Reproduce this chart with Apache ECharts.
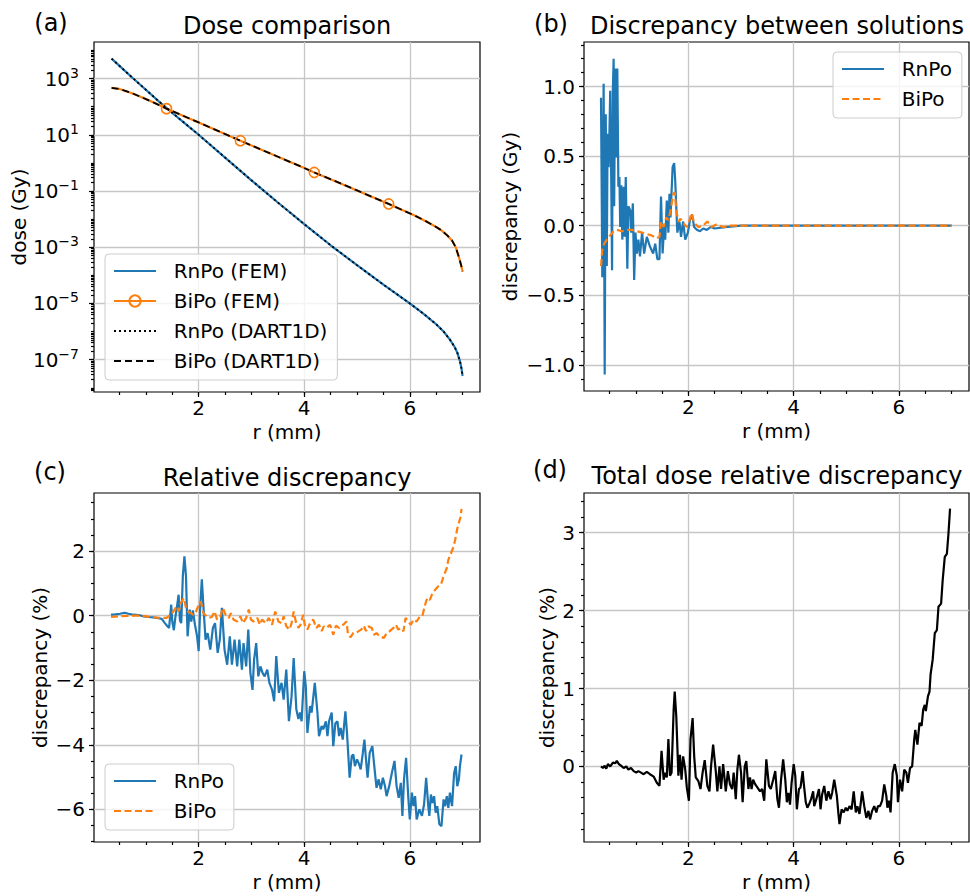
<!DOCTYPE html>
<html>
<head>
<meta charset="utf-8">
<script src="https://cdn.jsdelivr.net/npm/echarts@6/dist/echarts.min.js"></script>
<style>
html, body { margin: 0; padding: 0; background: #fff; }
#chart { width: 970px; height: 896px; }
</style>
</head>
<body>
<div id="chart"></div>
<script>
// (a) dose, stored as log10(dose in Gy)
var rnpoR_a = [0.35,0.5,0.75,1.0,1.25,1.5,1.75,2.0,2.5,3.0,
  3.5,4.0,4.5,5.0,5.5,6.0,6.25,6.5,6.64,6.75,
  6.85,6.9,6.95,6.98,7.0];
var rnpoLogDose_a = [3.71,3.45,3.02,2.60,2.18,1.78,1.39,1.0,0.19,-0.62,
  -1.41,-2.18,-2.93,-3.64,-4.33,-5.0,-5.35,-5.74,-6.0,-6.26,
  -6.55,-6.75,-7.05,-7.32,-7.58];
var bipoR_a = [0.35,0.5,0.75,1.0,1.2,1.39,1.7,2.0,2.4,2.79,
  3.2,3.6,4.0,4.19,4.6,5.0,5.3,5.6,5.9,6.1,
  6.33,6.5,6.6,6.71,6.8,6.87,6.93,6.97,7.0];
var bipoLogDose_a = [2.67,2.63,2.47,2.27,2.1,1.93,1.68,1.44,1.11,0.79,
  0.46,0.14,-0.18,-0.34,-0.66,-0.98,-1.22,-1.46,-1.71,-1.88,
  -2.1,-2.28,-2.4,-2.58,-2.76,-3.0,-3.35,-3.62,-3.86];
var bipoMarkerIdx = [5, 9, 13, 17];

// (b) discrepancy between solutions (Gy)
var rnpoR_b = [0.34,0.365,0.39,0.41,0.43,0.45,0.465,0.485,0.50,0.515,
  0.535,0.55,0.565,0.58,0.59,0.61,0.63,0.65,0.67,0.69,
  0.705,0.725,0.745,0.77,0.79,0.81,0.84,0.86,0.895,0.914,
  0.945,0.97,0.995,1.02,1.05,1.08,1.12,1.16,1.21,1.27,
  1.33,1.37,1.41,1.45,1.48,1.51,1.54,1.56,1.59,1.62,
  1.64,1.66,1.70,1.73,1.75,1.79,1.83,1.86,1.90,1.94,
  1.99,2.03,2.07,2.11,2.16,2.22,2.28,2.35,2.42,2.5,
  2.7,3.0,4.0,5.0,6.0,7.0];
var rnpoDiff_b = [0.92,-0.37,1.02,-1.07,0.80,-0.29,0.66,0.42,0.67,0.97,
  0.30,-0.32,0.97,1.20,0.14,1.13,0.49,1.13,0.28,0.35,
  -0.01,0.29,-0.10,0.28,-0.08,0.35,-0.31,0.14,0.11,-0.05,
  0.16,-0.39,-0.05,-0.20,-0.10,-0.22,-0.05,-0.20,-0.08,-0.15,
  -0.20,-0.13,-0.24,-0.24,0.21,-0.20,0.00,-0.10,0.18,-0.05,
  0.23,0.06,0.42,0.45,0.32,-0.05,0.03,-0.08,0.03,-0.10,
  -0.05,0.04,0.08,-0.01,-0.03,-0.04,-0.02,-0.03,-0.01,-0.02,
  -0.01,0,0,0,0,0];
var bipoR_b = [0.34,0.365,0.40,0.45,0.515,0.58,0.64,0.74,0.83,0.93,
  1.02,1.12,1.21,1.30,1.40,1.45,1.48,1.53,1.58,1.62,
  1.665,1.715,1.74,1.77,1.81,1.85,1.90,1.97,2.02,2.06,
  2.11,2.19,2.28,2.36,2.44,2.54,2.66,2.79,3.0,4.0,
  5.0,6.0,7.0];
var bipoDiff_b = [-0.29,-0.17,-0.13,-0.10,-0.07,-0.04,-0.03,-0.04,-0.03,-0.03,
  -0.04,-0.05,-0.06,-0.07,-0.09,-0.08,0.03,-0.01,0.06,0.04,
  0.12,0.23,0.24,0.11,0.03,0.05,0.02,-0.01,0.04,0.09,
  0.02,-0.01,0.0,0.03,-0.01,0.01,-0.01,0.0,0,0,
  0,0,0];

// (c) relative discrepancy (%)
var rnpoR_c = [0.34,0.42,0.51,0.60,0.67,0.77,0.86,0.96,1.05,1.14,
  1.24,1.30,1.36,1.40,1.44,1.48,1.50,1.53,1.56,1.59,
  1.62,1.645,1.67,1.70,1.73,1.76,1.79,1.83,1.86,1.89,
  1.93,1.97,2.00,2.03,2.06,2.09,2.13,2.17,2.22,2.27,
  2.31,2.36,2.40,2.44,2.49,2.54,2.59,2.63,2.68,2.73,
  2.77,2.82,2.85,2.90,2.94,2.98,3.02,3.05,3.09,3.13,
  3.17,3.21,3.25,3.30,3.34,3.39,3.43,3.47,3.52,3.57,
  3.61,3.66,3.71,3.76,3.80,3.85,3.89,3.92,3.95,4.00,
  4.03,4.06,4.11,4.14,4.20,4.25,4.28,4.33,4.36,4.41,
  4.44,4.47,4.52,4.55,4.59,4.63,4.66,4.69,4.73,4.78,
  4.81,4.86,4.90,4.93,4.96,5.00,5.03,5.07,5.11,5.14,
  5.17,5.20,5.24,5.29,5.34,5.37,5.41,5.45,5.49,5.53,
  5.56,5.61,5.66,5.71,5.75,5.79,5.83,5.86,5.89,5.93,
  5.97,6.00,6.04,6.07,6.10,6.13,6.18,6.23,6.27,6.31,
  6.35,6.37,6.40,6.43,6.46,6.49,6.52,6.56,6.60,6.64,
  6.67,6.70,6.73,6.76,6.80,6.84,6.87,6.90,6.93,6.95,
  6.98];
var rnpoRel_c = [0.03,0.04,0.06,0.09,0.06,0.03,0.02,-0.02,-0.04,-0.05,
  -0.08,-0.10,-0.23,-0.31,-0.38,0.34,-0.18,-0.45,-0.03,0.29,
  0.65,-0.15,-0.23,1.22,1.84,1.22,-0.64,0.19,-0.18,0.16,
  -0.28,-0.64,-1.10,0.29,1.13,0.29,-0.74,-0.54,-1.05,-0.38,
  -0.23,-1.15,-0.74,0.24,-1.05,-1.52,-0.64,-1.52,-0.74,-1.57,
  -0.74,-1.67,-0.85,-1.57,-0.43,-1.77,-2.30,-1.36,-0.85,-1.88,
  -1.57,-1.77,-1.88,-1.67,-2.08,-2.29,-2.65,-1.25,-2.39,-2.08,
  -2.60,-1.67,-3.27,-2.50,-1.31,-2.90,-3.20,-3.00,-3.27,-1.72,
  -2.20,-3.63,-2.80,-3.00,-2.08,-3.00,-3.73,-3.42,-3.52,-3.27,
  -3.73,-3.27,-3.00,-4.04,-3.33,-3.27,-3.73,-3.48,-3.84,-2.96,
  -3.63,-5.02,-4.35,-4.30,-4.66,-4.45,-4.56,-4.76,-4.25,-3.84,
  -4.45,-5.02,-4.25,-4.04,-4.87,-5.33,-5.07,-5.38,-5.02,-5.28,
  -5.59,-5.28,-4.87,-4.50,-5.28,-5.64,-5.18,-6.20,-5.07,-4.40,
  -5.59,-6.31,-5.48,-5.90,-5.59,-6.31,-6.00,-6.20,-5.85,-5.02,
  -5.90,-6.20,-5.54,-5.80,-5.59,-6.10,-5.90,-6.46,-6.52,-5.69,
  -5.90,-5.59,-5.95,-5.48,-5.90,-4.87,-4.66,-5.28,-5.07,-4.66,
  -4.30];
var bipoR_c = [0.34,0.5,0.7,0.9,1.08,1.27,1.39,1.47,1.52,1.58,
  1.62,1.66,1.72,1.76,1.80,1.85,1.90,1.95,2.0,2.04,
  2.09,2.14,2.19,2.25,2.30,2.35,2.41,2.46,2.51,2.57,
  2.61,2.66,2.73,2.79,2.84,2.90,2.95,2.99,3.04,3.11,
  3.16,3.2,3.27,3.33,3.39,3.45,3.51,3.57,3.61,3.66,
  3.72,3.76,3.80,3.84,3.89,3.93,3.98,4.01,4.06,4.11,
  4.17,4.23,4.28,4.33,4.37,4.42,4.49,4.55,4.6,4.66,
  4.74,4.8,4.83,4.88,4.93,5.0,5.08,5.13,5.17,5.21,
  5.28,5.32,5.37,5.43,5.51,5.56,5.62,5.69,5.74,5.78,
  5.83,5.88,5.92,5.97,6.02,6.07,6.13,6.19,6.24,6.29,
  6.33,6.38,6.43,6.48,6.54,6.59,6.64,6.7,6.73,6.77,
  6.83,6.86,6.9,6.93,6.96,6.98];
var bipoRel_c = [-0.04,-0.02,0.0,0.0,-0.04,-0.07,-0.07,0.03,0.13,0.29,
  0.13,0.39,0.55,0.24,0.13,0.08,0.03,0.13,0.34,0.44,
  0.08,0.0,-0.07,-0.04,0.13,-0.12,-0.02,0.24,0.03,-0.07,
  0.08,-0.12,-0.18,-0.02,-0.23,-0.07,0.19,-0.12,-0.18,-0.07,
  -0.28,-0.12,-0.23,-0.07,-0.28,0.13,-0.18,-0.23,-0.02,-0.33,
  -0.43,-0.23,0.13,-0.18,-0.38,-0.28,0.03,-0.28,-0.43,-0.23,
  -0.12,-0.38,-0.28,-0.48,-0.33,-0.38,-0.28,-0.59,-0.31,-0.38,
  -0.28,-0.18,-0.59,-0.67,-0.53,-0.51,-0.43,-0.31,-0.48,-0.33,
  -0.38,-0.59,-0.54,-0.64,-0.69,-0.54,-0.48,-0.38,-0.28,-0.43,
  -0.38,-0.48,-0.07,-0.18,-0.28,-0.12,-0.18,-0.02,0.0,0.34,
  0.55,0.49,0.7,0.8,0.91,0.96,1.22,1.47,1.73,1.89,
  2.14,2.35,2.7,2.88,3.05,3.31];

// (d) total dose relative discrepancy (%)
var totR_d = [0.34,0.377,0.41,0.44,0.47,0.516,0.566,0.61,0.64,0.68,
  0.72,0.77,0.82,0.86,0.91,0.96,1.01,1.05,1.10,1.15,
  1.21,1.27,1.34,1.40,1.45,1.49,1.53,1.56,1.59,1.62,
  1.65,1.68,1.72,1.74,1.77,1.81,1.84,1.87,1.90,1.94,
  1.97,2.01,2.04,2.08,2.11,2.14,2.19,2.23,2.27,2.31,
  2.36,2.40,2.43,2.47,2.52,2.55,2.59,2.62,2.66,2.71,
  2.75,2.79,2.83,2.86,2.90,2.93,2.96,3.0,3.03,3.07,
  3.10,3.14,3.17,3.20,3.23,3.27,3.31,3.36,3.40,3.44,
  3.48,3.53,3.565,3.61,3.65,3.69,3.72,3.76,3.80,3.84,
  3.87,3.90,3.93,3.96,4.0,4.03,4.06,4.10,4.13,4.17,
  4.19,4.23,4.26,4.29,4.33,4.37,4.39,4.43,4.48,4.51,
  4.54,4.58,4.62,4.66,4.70,4.73,4.77,4.82,4.85,4.87,
  4.91,4.95,4.99,5.02,5.06,5.10,5.14,5.18,5.21,5.25,
  5.30,5.34,5.38,5.42,5.45,5.49,5.53,5.57,5.60,5.64,
  5.68,5.72,5.76,5.78,5.81,5.84,5.88,5.92,5.96,5.98,
  6.02,6.06,6.10,6.14,6.17,6.21,6.25,6.29,6.31,6.35,
  6.39,6.43,6.46,6.49,6.51,6.55,6.58,6.60,6.64,6.68,
  6.72,6.75,6.80,6.83,6.87,6.91,6.94,6.97];
var totRel_d = [0.0,-0.02,0.01,-0.03,0.03,0.0,0.05,0.04,0.07,0.03,
  0.01,-0.02,0.0,-0.04,-0.02,-0.06,-0.08,-0.06,-0.08,-0.10,
  -0.07,-0.10,-0.13,-0.21,-0.25,0.20,-0.17,-0.08,-0.14,0.35,
  -0.12,-0.08,0.73,0.96,0.64,-0.12,0.15,-0.17,0.13,-0.04,
  -0.27,-0.44,0.35,0.62,0.13,-0.14,-0.19,-0.29,-0.08,0.08,
  -0.25,-0.32,0.0,0.28,-0.06,-0.32,0.0,-0.29,0.03,-0.32,
  -0.06,-0.23,-0.29,-0.08,-0.42,-0.04,0.15,-0.08,-0.46,0.0,
  0.07,-0.29,-0.14,-0.29,-0.17,-0.23,-0.27,-0.32,-0.29,-0.44,
  0.09,-0.25,-0.29,-0.17,-0.06,-0.42,-0.53,-0.17,0.09,-0.17,
  -0.46,-0.34,-0.49,-0.21,0.03,-0.12,-0.55,-0.29,-0.27,-0.06,
  -0.21,-0.46,-0.53,-0.49,-0.42,-0.32,-0.51,-0.42,-0.29,-0.55,
  -0.36,-0.25,-0.44,-0.32,-0.42,-0.34,-0.17,-0.38,-0.61,-0.74,
  -0.55,-0.59,-0.53,-0.57,-0.51,-0.55,-0.32,-0.59,-0.51,-0.61,
  -0.32,-0.51,-0.66,-0.57,-0.68,-0.57,-0.51,-0.59,-0.51,-0.51,
  -0.44,-0.23,-0.38,-0.53,-0.44,-0.59,-0.08,0.03,-0.12,-0.46,
  -0.17,-0.32,-0.04,-0.08,-0.21,-0.02,0.0,0.35,0.47,0.28,
  0.56,0.52,0.73,0.79,0.71,0.90,0.96,1.18,1.37,1.71,
  1.75,2.05,2.09,2.39,2.69,2.73,2.99,3.31];

// tick labels
var rTicks = [2, 4, 6];
var doseTickExp = [-7, -5, -3, -1, 1, 3];
var diffTicks = [-1.0, -0.5, 0.0, 0.5, 1.0];
var relTicks = [-6, -4, -2, 0, 2];
var totTicks = [0, 1, 2, 3];

var BLUE = '#1f77b4';
var ORANGE = '#ff7f0e';
var GRID_C = '#c6c6c6';
var FONT = 'DejaVu Sans';
var MINUS = '\u2212';
var X_MIN = 0.017, X_MAX = 7.33;

function fmt(digits) {
  return function (v) {
    var s = Number(v).toFixed(digits);
    if (s.charAt(0) === '-') s = MINUS + s.slice(1);
    return s;
  };
}
function fmtPow(v) {
  return '{b|10}{s|' + String(Math.round(v)).replace('-', MINUS) + '}';
}
function pairs(xs, ys) {
  var out = [];
  for (var i = 0; i < Math.min(xs.length, ys.length); i++) out.push([xs[i], ys[i]]);
  return out;
}
function steps(from, to, step) {
  var out = [];
  var n = Math.round((to - from) / step);
  for (var i = 0; i <= n; i++) out.push(+(from + i * step).toFixed(4));
  return out;
}
function logMinor(lo, hi) {
  var out = [];
  for (var n = -9; n <= 5; n++) {
    for (var k = 1; k <= 9; k++) {
      var v = n + Math.log10(k);
      if (v >= lo && v <= hi) out.push(v);
    }
  }
  return out;
}

var grids = [
  {left: 94, top: 42, width: 386, height: 350},
  {left: 584, top: 42, width: 385, height: 349},
  {left: 94, top: 493, width: 386, height: 349},
  {left: 584, top: 493, width: 385, height: 349}
];

var tickLine = {color: '#000', width: 1.2};

function xMain(g) {
  return {
    type: 'value', gridIndex: g, position: 'bottom', min: X_MIN, max: X_MAX,
    name: 'r (mm)', nameLocation: 'middle', nameGap: 30,
    nameTextStyle: {fontSize: 20, color: '#000', fontFamily: FONT},
    axisLine: {show: false, onZero: false},
    axisTick: {show: true, length: 5, customValues: rTicks, lineStyle: tickLine},
    axisLabel: {customValues: rTicks, fontSize: 20, color: '#000', fontFamily: FONT, margin: 6, formatter: fmt(0)},
    splitLine: {show: true, lineStyle: {color: GRID_C, width: 1.3}}
  };
}
function xMinor(g) {
  return {
    type: 'value', gridIndex: g, position: 'bottom', min: X_MIN, max: X_MAX,
    axisLine: {show: false, onZero: false}, axisLabel: {show: false}, splitLine: {show: false},
    axisTick: {show: true, length: 3, customValues: steps(0.5, 7.0, 0.5), lineStyle: tickLine}
  };
}
function yMain(g, min, max, ticks, formatter, name, nameGap, margin, rich) {
  var label = {customValues: ticks, fontSize: 20, color: '#000', fontFamily: FONT, margin: margin, formatter: formatter};
  if (rich) label.rich = rich;
  return {
    type: 'value', gridIndex: g, position: 'left', min: min, max: max,
    name: name, nameLocation: 'middle', nameGap: nameGap,
    nameTextStyle: {fontSize: 20, color: '#000', fontFamily: FONT},
    axisLine: {show: false, onZero: false},
    axisTick: {show: true, length: 5, customValues: ticks, lineStyle: tickLine},
    axisLabel: label,
    splitLine: {show: true, lineStyle: {color: GRID_C, width: 1.3}}
  };
}
function yMinor(g, min, max, values) {
  return {
    type: 'value', gridIndex: g, position: 'left', min: min, max: max,
    axisLine: {show: false, onZero: false}, axisLabel: {show: false}, splitLine: {show: false},
    axisTick: {show: true, length: 3, customValues: values, lineStyle: tickLine}
  };
}

var powRich = {
  b: {fontSize: 20, color: '#000', fontFamily: FONT},
  s: {fontSize: 14, color: '#000', fontFamily: FONT, verticalAlign: 'top', padding: [0, 0, 12, 0]}
};

var Y_A = [-8.15, 4.3], Y_B = [-1.188, 1.32], Y_C = [-7.01, 3.80], Y_D = [-0.97, 3.51];

var bipoData_a = pairs(bipoR_a, bipoLogDose_a).map(function (p, i) {
  return bipoMarkerIdx.indexOf(i) >= 0 ? {value: p} : {value: p, symbol: 'none'};
});

// legend entries: only "BiPo (FEM)" keeps its marker in the key
function entries(names, withMarker) {
  return names.map(function (n) {
    return withMarker.indexOf(n) >= 0 ? {name: n} : {name: n, itemStyle: {opacity: 0}};
  });
}

function legendBox(names, left, top) {
  return {
    data: entries(names, ['BiPo (FEM)']), orient: 'vertical', left: left, top: top,
    itemWidth: 42, itemHeight: 14, itemGap: 10, padding: [7, 10, 9, 8],
    backgroundColor: 'rgba(255,255,255,0.8)', borderColor: '#cccccc', borderWidth: 1, borderRadius: 4,
    selectedMode: false,
    // extra gap between key line and text, as in the original
    formatter: function (name) { return '\u00a0\u00a0' + name; },
    textStyle: {fontSize: 20, color: '#000', fontFamily: FONT}
  };
}

function label(text, x, y) {
  return {type: 'text', x: x, y: y, silent: true,
    style: {text: text, fontSize: 24, fontFamily: FONT, fill: '#000', align: 'center', verticalAlign: 'middle'}};
}

var option = {
  animation: false,
  backgroundColor: '#fff',
  textStyle: {fontFamily: FONT},
  grid: grids.map(function (g) {
    return {left: g.left, top: g.top, width: g.width, height: g.height, show: true,
      borderColor: '#000', borderWidth: 1.2, backgroundColor: 'transparent', containLabel: false, outerBoundsMode: 'none'};
  }),
  xAxis: [xMain(0), xMain(1), xMain(2), xMain(3), xMinor(0), xMinor(1), xMinor(2), xMinor(3)],
  yAxis: [
    yMain(0, Y_A[0], Y_A[1], doseTickExp, fmtPow, 'dose (Gy)', 62, 15, powRich),
    yMain(1, Y_B[0], Y_B[1], diffTicks, fmt(1), 'discrepancy (Gy)', 64, 9),
    yMain(2, Y_C[0], Y_C[1], relTicks, fmt(0), 'discrepancy (%)', 44, 9),
    yMain(3, Y_D[0], Y_D[1], totTicks, fmt(0), 'discrepancy (%)', 27, 9),
    yMinor(0, Y_A[0], Y_A[1], logMinor(Y_A[0], Y_A[1])),
    yMinor(1, Y_B[0], Y_B[1], steps(-1.1, 1.3, 0.1)),
    yMinor(2, Y_C[0], Y_C[1], steps(-7.0, 3.5, 0.5)),
    yMinor(3, Y_D[0], Y_D[1], steps(-0.8, 3.4, 0.2))
  ],
  legend: [
    legendBox(['RnPo (FEM)', 'BiPo (FEM)', 'RnPo (DART1D)', 'BiPo (DART1D)'], 105, 254),
    legendBox(['RnPo', 'BiPo'], 833, 52),
    legendBox(['RnPo', 'BiPo'], 105, 764)
  ],
  graphic: [
    label('(a)', 51, 23), label('Dose comparison', 287, 26),
    label('(b)', 551, 24), label('Discrepancy between solutions', 777, 26),
    label('(c)', 50, 472), label('Relative discrepancy', 287, 478),
    label('(d)', 550, 470), label('Total dose relative discrepancy', 777, 476)
  ],
  series: [
    {name: 'RnPo (FEM)', type: 'line', xAxisIndex: 0, yAxisIndex: 0, data: pairs(rnpoR_a, rnpoLogDose_a),
      symbol: 'none', lineStyle: {color: BLUE, width: 2.2}, itemStyle: {color: BLUE}, silent: true},
    {name: 'BiPo (FEM)', type: 'line', xAxisIndex: 0, yAxisIndex: 0, data: bipoData_a,
      symbol: 'circle', symbolSize: 10, showSymbol: true, showAllSymbol: true,
      itemStyle: {color: 'rgba(255,255,255,0)', borderColor: ORANGE, borderWidth: 1.6},
      lineStyle: {color: ORANGE, width: 2.2}, silent: true},
    {name: 'RnPo (DART1D)', type: 'line', xAxisIndex: 0, yAxisIndex: 0, data: pairs(rnpoR_a, rnpoLogDose_a),
      symbol: 'none', lineStyle: {color: '#000', width: 1.8, type: [2, 3]}, itemStyle: {color: '#000'}, silent: true},
    {name: 'BiPo (DART1D)', type: 'line', xAxisIndex: 0, yAxisIndex: 0, data: pairs(bipoR_a, bipoLogDose_a),
      symbol: 'none', lineStyle: {color: '#000', width: 1.8, type: [7, 4]}, itemStyle: {color: '#000'}, silent: true},

    {name: 'RnPo', type: 'line', xAxisIndex: 1, yAxisIndex: 1, data: pairs(rnpoR_b, rnpoDiff_b),
      symbol: 'none', lineStyle: {color: BLUE, width: 2.2}, itemStyle: {color: BLUE}, silent: true},
    {name: 'BiPo', type: 'line', xAxisIndex: 1, yAxisIndex: 1, data: pairs(bipoR_b, bipoDiff_b),
      symbol: 'none', lineStyle: {color: ORANGE, width: 2.2, type: [7, 3.5]}, itemStyle: {color: ORANGE}, silent: true},

    {name: 'RnPo', type: 'line', xAxisIndex: 2, yAxisIndex: 2, data: pairs(rnpoR_c, rnpoRel_c),
      symbol: 'none', lineStyle: {color: BLUE, width: 2.2}, itemStyle: {color: BLUE}, silent: true},
    {name: 'BiPo', type: 'line', xAxisIndex: 2, yAxisIndex: 2, data: pairs(bipoR_c, bipoRel_c),
      symbol: 'none', lineStyle: {color: ORANGE, width: 2.2, type: [7, 3.5]}, itemStyle: {color: ORANGE}, silent: true},

    {name: 'total', type: 'line', xAxisIndex: 3, yAxisIndex: 3, data: pairs(totR_d, totRel_d),
      symbol: 'none', lineStyle: {color: '#000', width: 2.2}, itemStyle: {color: '#000'}, silent: true}
  ]
};

var chart = echarts.init(document.getElementById('chart'), null, {renderer: 'svg'});
chart.setOption(option);
</script>
</body>
</html>
